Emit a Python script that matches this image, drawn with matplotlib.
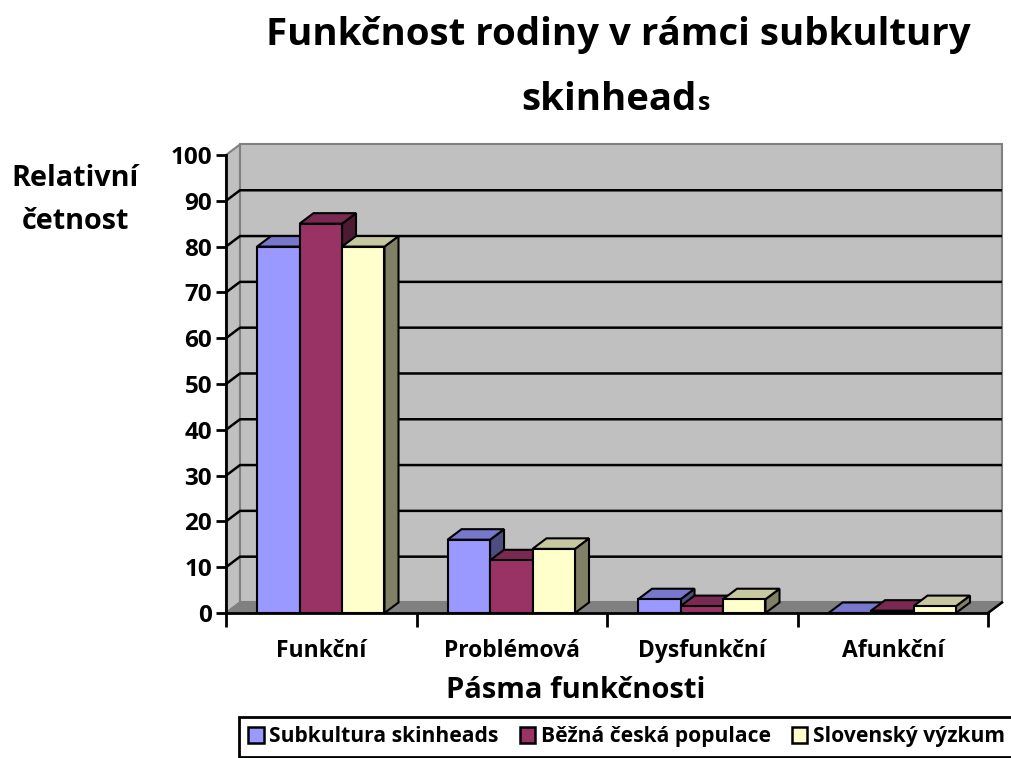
import matplotlib.pyplot as plt
from matplotlib.patches import Polygon, Patch

categories = ['Funkční', 'Problémová', 'Dysfunkční', 'Afunkční']
series = ['Subkultura skinheads', 'Běžná česká populace', 'Slovenský výzkum']
subkultura = [80, 16, 3, 0]
bezna = [85, 11.5, 1.5, 0.5]
slovensky = [80, 14, 3, 1.5]
yticks = list(range(0, 101, 10))

front_colors = ['#9999FF', '#993366', '#FFFFCC']
top_colors = ['#7777CC', '#7A2952', '#C8C8A0']
side_colors = ['#4D4D80', '#4D1A33', '#808066']

FONT = ['Open Sans', 'DejaVu Sans']
plt.rcParams['font.family'] = FONT
plt.rcParams['font.weight'] = 'bold'

fig = plt.figure(figsize=(10.11, 7.58), dpi=100)
ax = fig.add_axes([226 / 1011, 1 - 613 / 758, 762 / 1011, 458 / 758])
ax.set_xlim(0, 4)
ax.set_ylim(0, 100)

n = len(categories)
dx, dy = 0.0735, 2.3  # depth offset in data units

# walls and floor
ax.add_patch(Polygon([(0, 0), (dx, dy), (dx, 100 + dy), (0, 100)],
                     facecolor='#C0C0C0', edgecolor='#808080', lw=1.5,
                     clip_on=False, zorder=0))
ax.add_patch(Polygon([(dx, dy), (n + dx, dy), (n + dx, 100 + dy), (dx, 100 + dy)],
                     facecolor='#C0C0C0', edgecolor='#808080', lw=1.5,
                     clip_on=False, zorder=0))
ax.add_patch(Polygon([(0, 0), (n, 0), (n + dx, dy), (dx, dy)],
                     facecolor='#808080', edgecolor='#808080', lw=1.5,
                     clip_on=False, zorder=0.2))
ax.plot([n, n + dx], [0, dy], color='black', lw=1.8, clip_on=False, zorder=0.5)

# gridlines on side and back wall
for v in yticks[1:-1]:
    ax.plot([0, dx, n + dx], [v, v + dy, v + dy], color='black', lw=1.8,
            clip_on=False, zorder=0.5, solid_capstyle='butt')

# 3d bars
data = [subkultura, bezna, slovensky]
bw = 0.223
start = 0.163
for i in range(n):
    for k, vals in enumerate(data):
        h = vals[i]
        x0 = i + start + k * bw
        x1 = x0 + bw
        z = 2 + k * 0.1
        ax.add_patch(Polygon([(x1, 0), (x1 + dx, dy), (x1 + dx, h + dy), (x1, h)],
                             facecolor=side_colors[k], edgecolor='black', lw=1.5,
                             clip_on=False, zorder=z))
        ax.add_patch(Polygon([(x0, h), (x1, h), (x1 + dx, h + dy), (x0 + dx, h + dy)],
                             facecolor=top_colors[k], edgecolor='black', lw=1.5,
                             clip_on=False, zorder=z))
        ax.add_patch(Polygon([(x0, 0), (x1, 0), (x1, h), (x0, h)],
                             facecolor=front_colors[k], edgecolor='black', lw=1.5,
                             clip_on=False, zorder=z))

for s in ['top', 'right']:
    ax.spines[s].set_visible(False)
for s in ['left', 'bottom']:
    ax.spines[s].set_linewidth(2)
    ax.spines[s].set_zorder(3)
ax.patch.set_visible(False)

ax.set_yticks(yticks)
ax.set_yticklabels([str(t) for t in yticks], fontsize=17.5, fontweight='bold')
ax.tick_params(axis='y', direction='out', length=7, width=2, pad=3)
ax.set_xticks(range(n + 1))
ax.set_xticklabels([])
ax.tick_params(axis='x', which='major', direction='out', length=10, width=2)
ax.set_xticks([i + 0.5 for i in range(n)], minor=True)
ax.set_xticklabels(categories, minor=True, fontsize=16.5, fontweight='bold')
ax.tick_params(axis='x', which='minor', length=0, pad=19)

fig.text(618 / 1011, 1 - 45 / 758, 'Funkčnost rodiny v rámci subkultury',
         ha='center', va='baseline', fontsize=27.6, fontweight='bold')
fig.text(697 / 1011, 1 - 110 / 758, 'skinhead', ha='right', va='baseline',
         fontsize=27.6, fontweight='bold')
fig.text(698 / 1011, 1 - 110 / 758, 's', ha='left', va='baseline',
         fontsize=18, fontweight='bold')

fig.text(75 / 1011, 1 - 200 / 758, 'Relativní\nčetnost', ha='center', va='center',
         fontsize=20.7, fontweight='bold', linespacing=1.6)
fig.text(576 / 1011, 1 - 690 / 758, 'Pásma funkčnosti', ha='center', va='center',
         fontsize=21, fontweight='bold')

handles = [Patch(facecolor=c, edgecolor='black', lw=1.8) for c in front_colors]
leg = fig.legend(handles, series, loc='upper left', ncol=3,
                 bbox_to_anchor=(239 / 1011, 1 - 717 / 758),
                 frameon=True, fancybox=False, framealpha=1, edgecolor='black',
                 prop={'family': FONT, 'weight': 'bold', 'size': 15.1},
                 handlelength=0.75, handleheight=0.75, handletextpad=0.25,
                 columnspacing=1.0, borderpad=0.45, borderaxespad=0)
leg.get_frame().set_linewidth(2)

fig.savefig('out.png', dpi=100)
